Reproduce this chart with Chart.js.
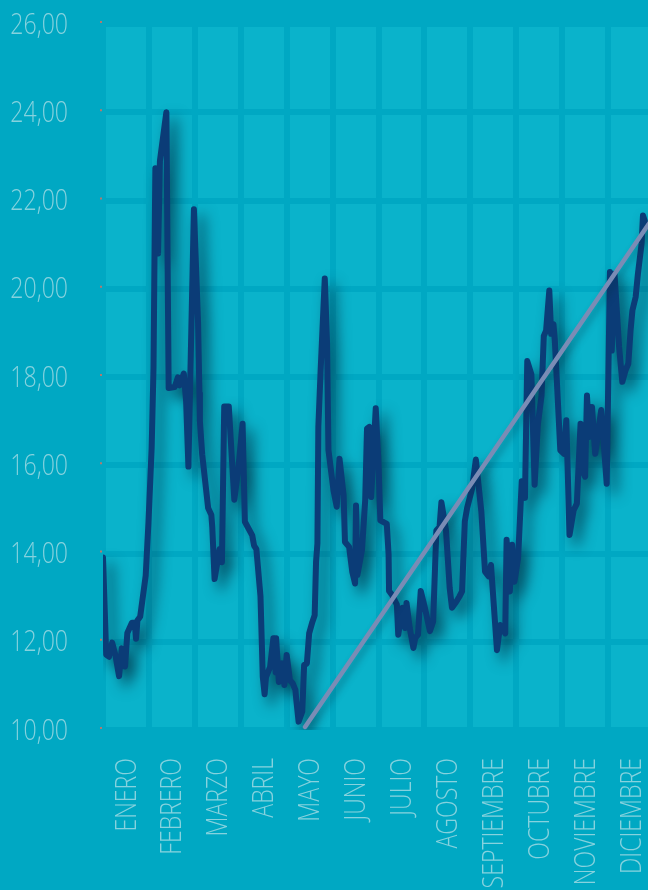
<!DOCTYPE html>
<html>
<head>
<meta charset="utf-8">
<script src="https://cdn.jsdelivr.net/npm/chart.js@4/dist/chart.umd.min.js"></script>
<style>
  html, body { margin: 0; padding: 0; background: #00a8c3; }
  #marco { width: 648px; height: 890px; overflow: hidden; }
</style>
</head>
<body>
<div id="marco"><canvas id="grafico" width="660" height="890"></canvas></div>
<script>
// meses del eje x
const meses = ["ENERO", "FEBRERO", "MARZO", "ABRIL", "MAYO", "JUNIO", "JULIO",
  "AGOSTO", "SEPTIEMBRE", "OCTUBRE", "NOVIEMBRE", "DICIEMBRE"];

// marcas del eje y
const marcasY = [10, 12, 14, 16, 18, 20, 22, 24, 26];
const etiquetasY = ["10,00", "12,00", "14,00", "16,00", "18,00", "20,00", "22,00", "24,00", "26,00"];

// serie: posicion en meses (0 = inicio de enero) y valor leido
const mesDecimal = [
  0.00, 0.07, 0.13, 0.20, 0.27, 0.35, 0.41, 0.48, 0.53, 0.63, 0.69, 0.72, 0.75, 0.81, 0.93,
  0.99, 1.06, 1.10, 1.12, 1.14, 1.20, 1.24, 1.38, 1.43, 1.56, 1.63, 1.67, 1.76, 1.81, 1.86,
  1.98, 2.07, 2.10, 2.11, 2.16, 2.29, 2.36, 2.38, 2.43, 2.54, 2.59, 2.64, 2.74, 2.86, 2.95,
  3.04, 3.09, 3.25, 3.29, 3.34, 3.43, 3.48, 3.52, 3.55, 3.64, 3.71, 3.76, 3.77, 3.83, 3.90,
  3.95, 4.00, 4.07, 4.13, 4.19, 4.21, 4.26, 4.34, 4.38, 4.44, 4.49, 4.56, 4.61, 4.64, 4.67,
  4.69, 4.74, 4.83, 4.88, 4.91, 5.02, 5.09, 5.15, 5.24, 5.27, 5.36, 5.43, 5.49, 5.51, 5.54,
  5.64, 5.71, 5.75, 5.80, 5.84, 5.94, 6.00, 6.04, 6.18, 6.22, 6.23, 6.29, 6.40, 6.43, 6.52,
  6.58, 6.61, 6.68, 6.76, 6.80, 6.86, 6.92, 7.01, 7.12, 7.19, 7.26, 7.33, 7.37, 7.47, 7.55,
  7.60, 7.69, 7.76, 7.82, 7.88, 7.93, 8.04, 8.12, 8.24, 8.32, 8.40, 8.45, 8.58, 8.65, 8.76,
  8.79, 8.86, 8.91, 8.96, 9.04, 9.12, 9.19, 9.24, 9.33, 9.40, 9.47, 9.55, 9.60, 9.65, 9.72,
  9.76, 9.81, 9.84, 9.96, 10.04, 10.09, 10.16, 10.25, 10.32, 10.40, 10.47, 10.50, 10.54, 10.59, 10.65,
  10.72, 10.79, 10.85, 10.90, 10.97, 11.04, 11.08, 11.14, 11.24, 11.31, 11.38, 11.44, 11.49, 11.53, 11.60,
  11.65, 11.73, 11.76, 11.81, 11.90, 12.00
];
const valores = [
  13.91, 11.71, 11.66, 11.98, 11.70, 11.22, 11.85, 11.44, 12.20, 12.43, 12.43, 12.07, 12.48, 12.57, 13.50,
  14.70, 16.40, 18.20, 20.50, 22.73, 20.80, 22.90, 24.00, 17.75, 17.77, 17.99, 17.81, 18.08, 17.45, 15.97,
  21.80, 19.24, 17.63, 17.00, 16.25, 15.03, 14.87, 14.60, 13.42, 14.10, 13.80, 17.33, 17.33, 15.22, 15.95,
  16.94, 14.72, 14.41, 14.18, 14.10, 13.03, 11.20, 10.81, 11.20, 11.43, 12.08, 11.31, 12.08, 11.09, 11.51,
  11.02, 11.70, 11.13, 11.06, 10.91, 10.68, 10.19, 10.42, 11.47, 11.51, 12.19, 12.45, 12.60, 13.81, 14.23,
  16.87, 18.15, 20.23, 18.75, 16.34, 15.43, 15.06, 16.15, 15.32, 14.26, 14.15, 13.58, 13.32, 15.09, 13.51,
  14.08, 15.20, 16.83, 16.87, 15.28, 17.29, 16.04, 14.75, 14.67, 13.98, 13.15, 13.07, 12.84, 12.16, 12.77,
  12.31, 12.88, 12.31, 11.86, 12.08, 12.16, 13.15, 12.77, 12.24, 12.46, 14.52, 14.60, 15.16, 14.52, 13.22,
  12.77, 12.90, 13.02, 13.14, 14.73, 15.03, 15.48, 16.13, 14.95, 13.59, 13.48, 13.74, 11.81, 12.38, 12.19,
  14.31, 13.14, 14.20, 13.36, 13.89, 15.64, 15.26, 18.36, 18.06, 15.56, 16.92, 17.57, 18.93, 19.05, 19.96,
  18.98, 19.20, 18.83, 16.34, 16.26, 17.02, 14.42, 14.98, 15.13, 16.94, 15.81, 15.74, 17.58, 16.64, 17.32,
  16.26, 16.79, 17.25, 16.57, 15.58, 20.38, 18.60, 20.34, 18.68, 17.89, 18.15, 18.30, 19.06, 19.51, 19.81,
  20.34, 21.02, 21.66, 21.50, 21.40, 21.30
];

// linea de tendencia: inicio y fin
const tendenciaMes = [4.40, 12.00];
const tendenciaValor = [10.07, 21.64];

const fondo = "#00a8c3";
const celda = "#0ab3cb";
const colorTexto = "#86d2de";
const fuente = '300 30px "Open Sans", Lato, sans-serif';

function textoEstrecho(ctx, txt, x, y, girado) {
  ctx.save();
  ctx.translate(x, y);
  if (girado) ctx.rotate(-Math.PI / 2);
  ctx.scale(0.77, 1);
  ctx.fillText(txt, 0, 0);
  ctx.restore();
}

const fondoPlugin = {
  id: "fondo",
  beforeDraw(chart) {
    const { ctx, chartArea: a } = chart;
    ctx.save();
    ctx.fillStyle = fondo;
    ctx.fillRect(0, 0, chart.width, chart.height);
    ctx.fillStyle = celda;
    ctx.fillRect(a.left, a.top, a.right - a.left, a.bottom - a.top);
    ctx.restore();
  },
  afterDraw(chart) {
    const { ctx, chartArea: a } = chart;
    const sx = chart.scales.x, sy = chart.scales.y;
    ctx.save();
    ctx.fillStyle = colorTexto;
    ctx.font = fuente;
    // etiquetas del eje y
    ctx.textAlign = "right";
    ctx.textBaseline = "middle";
    marcasY.forEach((v, i) => {
      const py = sy.getPixelForValue(v);
      textoEstrecho(ctx, etiquetasY[i], 68, py + 1, false);
    });
    // etiquetas de los meses, giradas
    meses.forEach((m, i) => {
      const px = sx.getPixelForValue(i + 0.5);
      textoEstrecho(ctx, m, px + 1, 758, true);
    });
    // marcas pequeñas
    ctx.fillStyle = "#b07a70";
    marcasY.forEach(v => {
      const py = sy.getPixelForValue(v);
      ctx.fillRect(a.left - 3, py - 3, 2, 2);
    });
    ctx.restore();
  }
};

const sombraPlugin = {
  id: "sombra",
  beforeDatasetDraw(chart, args) {
    const ctx = chart.ctx;
    ctx.save();
    if (args.index === 1) {
      ctx.shadowColor = "rgba(0, 40, 60, 0.75)";
      ctx.shadowBlur = 14;
      ctx.shadowOffsetX = 7;
      ctx.shadowOffsetY = 8;
    } else {
      ctx.shadowColor = "rgba(0, 40, 60, 0.35)";
      ctx.shadowBlur = 7;
      ctx.shadowOffsetX = 3;
      ctx.shadowOffsetY = 4;
    }
  },
  afterDatasetDraw(chart) {
    chart.ctx.restore();
  }
};

new Chart(document.getElementById("grafico"), {
  type: "line",
  data: {
    datasets: [
      {
        label: "Tendencia",
        data: tendenciaMes.map((m, i) => ({ x: m, y: tendenciaValor[i] })),
        borderColor: "#7a8cb5",
        borderWidth: 4.5,
        pointRadius: 0,
        borderCapStyle: "round",
        order: 0
      },
      {
        label: "Serie",
        data: mesDecimal.map((m, i) => ({ x: m, y: valores[i] })),
        borderColor: "#0b3c77",
        borderWidth: 6,
        pointRadius: 0,
        tension: 0,
        borderJoinStyle: "round",
        borderCapStyle: "round",
        order: 1
      }
    ]
  },
  options: {
    responsive: false,
    animation: false,
    layout: { padding: { left: 103, right: 6, top: 24, bottom: 160 } },
    plugins: { legend: { display: false }, tooltip: { enabled: false } },
    scales: {
      x: {
        type: "linear",
        min: 0,
        max: 12,
        ticks: { display: false, stepSize: 1 },
        grid: { color: fondo, lineWidth: 6, drawTicks: false },
        border: { display: false }
      },
      y: {
        min: 10,
        max: 26,
        ticks: { display: false, stepSize: 2 },
        grid: { color: fondo, lineWidth: 6, drawTicks: false },
        border: { display: false }
      }
    }
  },
  plugins: [fondoPlugin, sombraPlugin]
});
</script>
</body>
</html>
